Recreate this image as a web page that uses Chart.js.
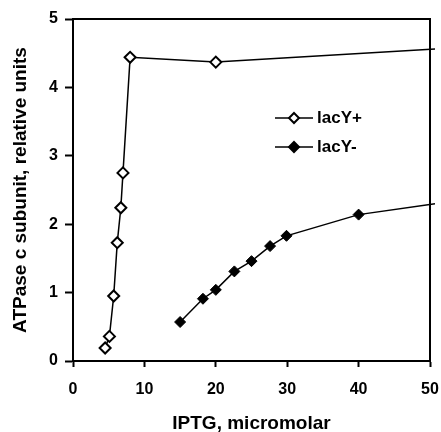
<!DOCTYPE html>
<html>
<head>
<meta charset="utf-8">
<script src="https://cdn.jsdelivr.net/npm/chart.js@4/dist/chart.umd.min.js"></script>
<style>
  html, body { margin: 0; padding: 0; background: #fff; }
  #wrap { width: 441px; height: 432px; }
</style>
</head>
<body>
<div id="wrap"><canvas id="atpChart" width="441" height="432"></canvas></div>
<script>
// --- datos ---
const plusX  = [4.5, 5.1, 5.7, 6.2, 6.7, 7.0, 8.0, 20.0, 50.7];
const plusY  = [0.19, 0.36, 0.95, 1.73, 2.24, 2.75, 4.44, 4.37, 4.56];
const minusX = [15.0, 18.2, 20.0, 22.6, 25.0, 27.6, 29.9, 40.0, 50.7];
const minusY = [0.57, 0.91, 1.04, 1.31, 1.46, 1.68, 1.83, 2.14, 2.30];
const xTicks = [0, 10, 20, 30, 40, 50];
const yTicks = [0, 1, 2, 3, 4, 5];
const seriesNames = ["lacY+", "lacY-"];

const toPts = (xs, ys) => xs.map((x, i) => ({ x, y: ys[i] }));
// el ultimo punto solo prolonga la linea fuera del marco
const radii = (n) => Array.from({ length: n }, (_, i) => (i === n - 1 ? 0 : 5.5));

const family = "'Liberation Sans', Arial, sans-serif";
const tickFont = { family, size: 16, weight: "bold" };
const titleFont = { family, size: 19, weight: "bold" };

// marco superior/derecho y leyenda dibujada a mano
const framePlugin = {
  id: "frame",
  beforeDatasetsDraw(chart) {
    const { ctx, chartArea: a } = chart;
    ctx.save();
    ctx.strokeStyle = "#000";
    ctx.lineWidth = 2;
    ctx.beginPath();
    ctx.moveTo(a.left, a.top);
    ctx.lineTo(a.right, a.top);
    ctx.lineTo(a.right, a.bottom);
    ctx.stroke();
    ctx.restore();
  },
  afterDraw(chart) {
    const ctx = chart.ctx;
    const rows = [
      { y: 118, fill: "#fff", label: seriesNames[0] },
      { y: 147, fill: "#000", label: seriesNames[1] },
    ];
    ctx.save();
    rows.forEach((r) => {
      ctx.strokeStyle = "#000";
      ctx.lineWidth = 1.5;
      ctx.beginPath();
      ctx.moveTo(275, r.y);
      ctx.lineTo(313, r.y);
      ctx.stroke();
      ctx.lineWidth = 2;
      ctx.fillStyle = r.fill;
      ctx.beginPath();
      ctx.moveTo(294, r.y - 5);
      ctx.lineTo(299, r.y);
      ctx.lineTo(294, r.y + 5);
      ctx.lineTo(289, r.y);
      ctx.closePath();
      ctx.fill();
      ctx.stroke();
      ctx.fillStyle = "#000";
      ctx.font = "bold 17px " + family;
      ctx.textBaseline = "middle";
      ctx.textAlign = "left";
      ctx.fillText(r.label, 317, r.y);
    });
    ctx.restore();
  },
};

new Chart(document.getElementById("atpChart"), {
  type: "scatter",
  data: {
    datasets: [
      {
        label: seriesNames[0],
        data: toPts(plusX, plusY),
        showLine: true,
        borderColor: "#000",
        borderWidth: 1.5,
        pointStyle: "rectRot",
        pointRadius: radii(plusX.length),
        pointBackgroundColor: "#fff",
        pointBorderColor: "#000",
        pointBorderWidth: 2,
        clip: false,
      },
      {
        label: seriesNames[1],
        data: toPts(minusX, minusY),
        showLine: true,
        borderColor: "#000",
        borderWidth: 1.5,
        pointStyle: "rectRot",
        pointRadius: radii(minusX.length),
        pointBackgroundColor: "#000",
        pointBorderColor: "#000",
        pointBorderWidth: 1,
        clip: false,
      },
    ],
  },
  options: {
    responsive: false,
    animation: false,
    layout: { padding: { top: 19, right: 11, left: 0, bottom: 0 } },
    plugins: { legend: { display: false }, tooltip: { enabled: false } },
    scales: {
      x: {
        type: "linear",
        min: 0,
        max: 50,
        afterBuildTicks: (s) => { s.ticks = xTicks.map((v) => ({ value: v })); },
        afterFit: (s) => { s.height = 71; s.paddingLeft = 0; s.paddingRight = 0; },
        grid: { drawOnChartArea: false, tickLength: 6, tickColor: "#000", tickWidth: 2 },
        border: { color: "#000", width: 2 },
        ticks: { color: "#000", font: tickFont, padding: 13, maxRotation: 0 },
        title: { display: true, text: "IPTG, micromolar", color: "#000", font: titleFont, padding: { top: 0, bottom: -3 } },
      },
      y: {
        type: "linear",
        min: 0,
        max: 5,
        afterBuildTicks: (s) => { s.ticks = yTicks.map((v) => ({ value: v })); },
        afterFit: (s) => { s.width = 73; s.paddingTop = 0; s.paddingBottom = 0; },
        grid: { drawOnChartArea: false, tickLength: 8, tickColor: "#000", tickWidth: 2 },
        border: { color: "#000", width: 2 },
        ticks: { color: "#000", font: tickFont, padding: 7 },
        title: { display: true, text: "ATPase c subunit, relative units", color: "#000", font: titleFont, padding: { top: 9, bottom: 0 } },
      },
    },
  },
  plugins: [framePlugin],
});
</script>
</body>
</html>
